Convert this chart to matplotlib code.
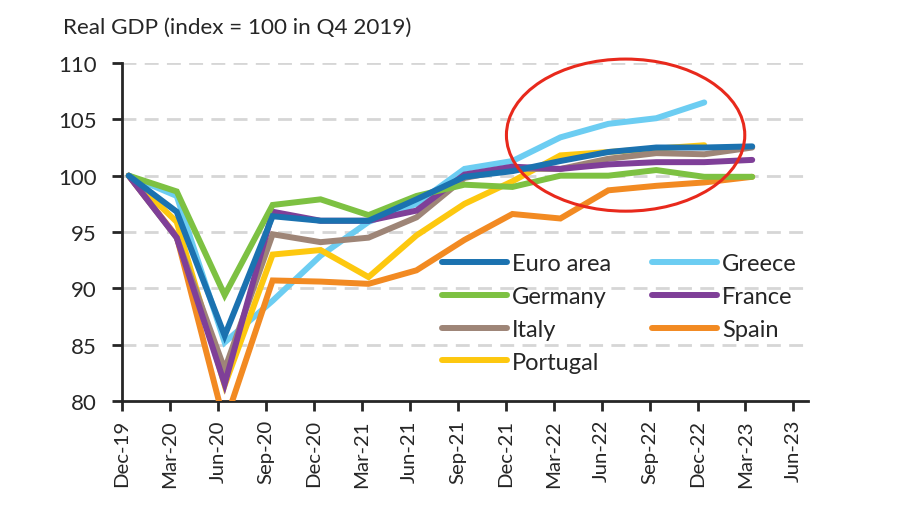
import matplotlib
matplotlib.use("Agg")
import matplotlib.pyplot as plt
from matplotlib.patches import Ellipse
import numpy as np

plt.rcParams['font.family'] = ['Lato', 'DejaVu Sans']

quarters = ["Dec-19", "Mar-20", "Jun-20", "Sep-20", "Dec-20", "Mar-21", "Jun-21",
            "Sep-21", "Dec-21", "Mar-22", "Jun-22", "Sep-22", "Dec-22", "Mar-23", "Jun-23"]

euro_area = [100, 96.8, 85.8, 96.4, 96.0, 96.0, 97.9, 99.9, 100.4, 101.3, 102.1, 102.5, 102.5, 102.6]
greece = [100, 98.2, 85.2, 88.9, 92.9, 95.9, 97.5, 100.6, 101.3, 103.4, 104.6, 105.1, 106.5]
germany = [100, 98.6, 89.4, 97.4, 97.9, 96.5, 98.2, 99.2, 99.0, 100.0, 100.0, 100.5, 99.9, 99.9]
france = [100, 94.5, 81.5, 96.8, 96.0, 96.0, 96.9, 100.1, 100.8, 100.6, 101.0, 101.2, 101.2, 101.4]
italy = [100, 94.5, 82.8, 94.8, 94.1, 94.5, 96.3, 99.8, 100.6, 100.6, 101.5, 102.0, 101.9, 102.5]
spain = [100, 94.6, 78.0, 90.7, 90.6, 90.4, 91.6, 94.3, 96.6, 96.2, 98.7, 99.1, 99.4, 99.9]
portugal = [100, 95.9, 81.4, 93.0, 93.4, 91.0, 94.7, 97.5, 99.5, 101.8, 102.1, 102.4, 102.7]

series = [
    ("Euro area", euro_area, "#1b72b0"),
    ("Germany", germany, "#7dc142"),
    ("Italy", italy, "#9e8577"),
    ("Portugal", portugal, "#fdc80f"),
    ("Greece", greece, "#6ccdf2"),
    ("France", france, "#7f3f98"),
    ("Spain", spain, "#f28a22"),
]
draw_order = ["Greece", "Spain", "Portugal", "Italy", "France", "Germany", "Euro area"]

fig = plt.figure(figsize=(9, 5.06), dpi=100)
ax = fig.add_axes([0.1356, 0.2055, 0.762, 0.668])

off = 0.14  # points sit a bit right of the month ticks
handles = {}
for name, vals, col in series:
    x = np.arange(len(vals)) + off
    z = 3 + draw_order.index(name)
    ln, = ax.plot(x, vals, color=col, lw=4.3, solid_capstyle="round",
                  solid_joinstyle="miter", zorder=z, label=name)
    handles[name] = ln

ax.set_ylim(80, 110)
ax.set_xlim(0, 14.3)
ax.set_yticks(np.arange(80, 111, 5))
ax.set_xticks(np.arange(len(quarters)))
ax.set_xticklabels(quarters, rotation=90, fontsize=14.7, color="#262626")
ax.tick_params(axis="y", labelsize=16, colors="#262626", length=7, width=2, pad=11)
ax.tick_params(axis="x", length=7, width=2, pad=6, colors="#262626")

for v in range(85, 111, 5):
    ax.axhline(v, color="#d6d6d6", lw=2, dashes=(5, 3), zorder=1)

for s in ["top", "right"]:
    ax.spines[s].set_visible(False)
for s in ["left", "bottom"]:
    ax.spines[s].set_linewidth(2)
    ax.spines[s].set_color("#262626")

leg = ax.legend([handles[n] for n, _, _ in series], [n for n, _, _ in series],
                ncol=2, frameon=False, fontsize=17, handlelength=2.75,
                handletextpad=0.2, columnspacing=1.75, labelspacing=0.5,
                loc="upper left", bbox_to_anchor=(0.436, 0.5))
for t in leg.get_texts():
    t.set_color("#262626")

ell = Ellipse((10.5, 103.6), 4.97, 13.5, fill=False, edgecolor="#e8291c",
              lw=2.2, clip_on=False, zorder=20)
ax.add_patch(ell)

fig.text(0.07, 0.945, "Real GDP (index = 100 in Q4 2019)", fontsize=16.2,
         color="#262626", va="center", ha="left")

fig.savefig("out.png", dpi=100, facecolor="white")
